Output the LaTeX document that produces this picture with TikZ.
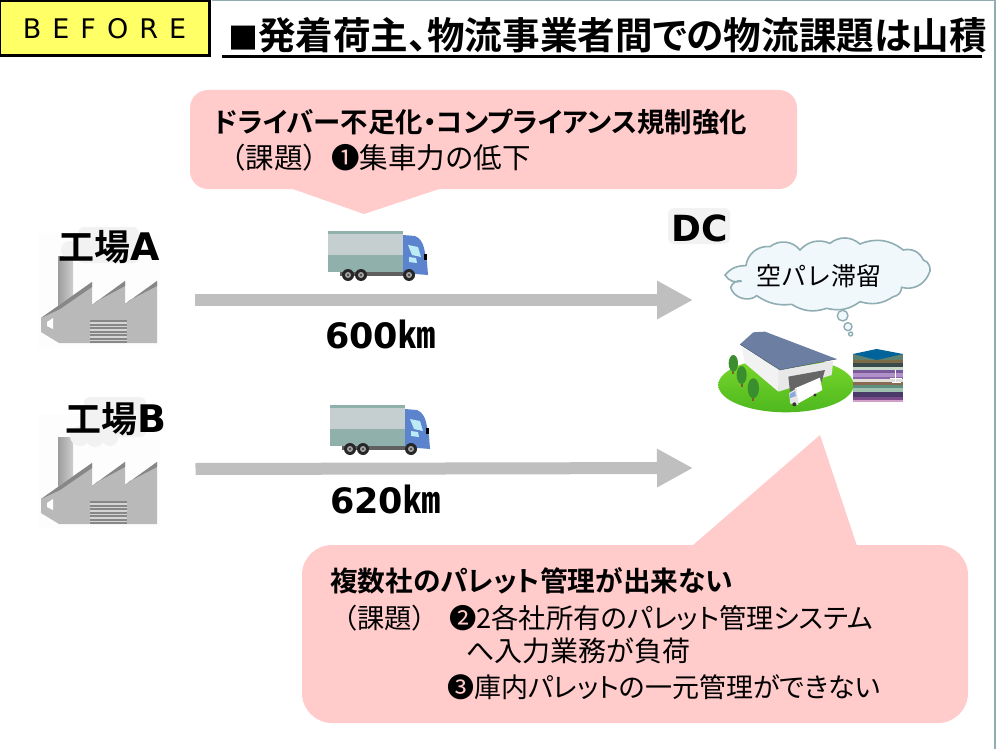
\documentclass[tikz,border=0pt]{standalone}
\usepackage{fontspec}
\usetikzlibrary{arrows.meta}
\setmainfont{DejaVu Sans}
\newfontfamily\jp[RawFeature=+palt,BoldFont={Noto Sans CJK JP Bold}]{Noto Sans CJK JP}
\newfontfamily\jpw[BoldFont={Noto Sans CJK JP Bold}]{Noto Sans CJK JP}
\newfontfamily\vd{DejaVu Sans}
\newcommand{\fs}[1]{\fontsize{#1}{#1}\selectfont}
\definecolor{pinkfill}{HTML}{FFCBCB}
\definecolor{framec}{HTML}{8FADB3}
\definecolor{yellowb}{HTML}{FFFF66}
\definecolor{arrowgray}{HTML}{BFBFBF}
\definecolor{facbody}{HTML}{B9B9B9}
\definecolor{facdark}{HTML}{878787}
\definecolor{halo}{HTML}{F2F2F2}
\definecolor{boxgray}{HTML}{C6CFCF}
\definecolor{boxteal}{HTML}{8FB0AB}
\definecolor{cabblue}{HTML}{5B83CE}
\definecolor{cabglass}{HTML}{BDEBF5}
\definecolor{cloudfill}{HTML}{F0F8FB}
\definecolor{facbg}{HTML}{FDFDFD}
\definecolor{roofc}{HTML}{6C7FA3}
\definecolor{treec}{HTML}{3B8E2E}
\definecolor{lawntop}{HTML}{7BD82C}
\definecolor{lawnbot}{HTML}{4DB81E}
\tikzset{
  x=1pt,y=-1pt,
  every node/.style={inner sep=0pt,outer sep=0pt},
  txt/.style={anchor=west,text=black,font=\jp\fs{27.3}},
  boldtxt/.style={anchor=west,text=black,font=\jp\bfseries\fs{27.7}},
  callout/.style={fill=pinkfill,draw=none},
  haul/.style={draw=arrowgray,line width=12pt,-{Triangle[length=36pt,width=36pt]}},
  labelhalo/.style={fill=halo,rounded corners=6pt},
  factory/.pic={
    \fill[facbg] (38,233) rectangle (160,347);
    \shade[left color=facbody!85!black,right color=facbody!70!white] (58,256) rectangle (73,305);
    \fill[facbody] (41,318) -- (92,282) -- (92,305) -- (125,281) -- (125,304) -- (157,281) -- (157,343) -- (59,343) -- (41,332) -- cycle;
    \fill[facdark] (41,318) -- (92,282) -- (92,287) -- (60,309) -- cycle;
    \fill[facdark] (92,305) -- (125,281) -- (125,286) -- (97,301) -- cycle;
    \fill[facdark] (125,304) -- (157,281) -- (157,286) -- (130,300) -- cycle;
    \fill[white] (47,322) -- (53,318) -- (53,329) -- (47,326) -- cycle;
    \fill[facbody!60!white] (90,320) rectangle (127,343);
    \foreach \yy in {320,323.5,...,341}{\fill[facdark] (90,\yy) rectangle (127,\yy+2);}
  },
  truck/.pic={
    \fill[boxgray] (328,231) rectangle (403,272);
    \fill[boxteal] (328,231) rectangle (403,233.5);
    \fill[boxteal] (328,255) rectangle (403,272);
    \fill[facdark!70!black] (340,272) rectangle (408,276);
    \fill[cabblue] (403,235) -- (415,236) .. controls (420,238) and (423,243) .. (424,248) -- (427,262) -- (428,275) -- (403,273) -- cycle;
    \fill[cabglass] (408,245) -- (418,247) -- (421,257) -- (412,255) -- cycle;
    \fill[cabglass] (409,257) -- (416,258) -- (417,263) -- (409,262) -- cycle;
    \fill[black] (424,254) rectangle (427,260);
    \foreach \wx in {348,361,409}{
      \fill[black!85] (\wx,275) circle (6);
      \fill[gray!70] (\wx,275) circle (3);
      \fill[black!70] (\wx,275) circle (1.3);
    }
  }
}
\begin{document}
\begin{tikzpicture}
\useasboundingbox (0,0) rectangle (999,749);
\fill[white] (0,0) rectangle (999,749);
% frame
\fill[framec] (212,0) rectangle (996,1.5);
\fill[framec] (994,0) rectangle (996,749);
% before tag
\node[draw=black,line width=3pt,fill=yellowb,minimum width=210pt,minimum height=55pt,anchor=north west,text=black,font=\vd\fs{27}] (tag) at (-0.5,1) {B\hspace{11pt}E\hspace{11pt}F\hspace{11pt}O\hspace{11pt}R\hspace{11pt}E\hspace{15pt}};
% title
\node[anchor=base west,font=\jp\bfseries\fs{37.6},text=black] (title) at (228,50) {{\fs{30}■}発着荷主、物流事業者間での物流課題は山積};
\fill[black] (222,55) rectangle (982,58);
% callout 1
\fill[pinkfill] (290,188) -- (364,214) -- (442,188) -- cycle;
\node[callout,rounded corners=18pt,minimum width=607pt,minimum height=99pt,anchor=north west] (callA) at (190,90) {};
\node[boldtxt,font=\jp\bfseries\fs{27.4}] (callAh) at (214,122) {ドライバー不足化・コンプライアンス規制強化};
\node[txt,font=\jpw\fs{28.5}] (callAt) at (217,158) {（課題）❶集車力の低下};
% callout 2
\fill[pinkfill] (692,546) -- (820,435) -- (857,546) -- cycle;
\node[callout,rounded corners=30pt,minimum width=666pt,minimum height=178pt,anchor=north west] (callB) at (302,545) {};
\node[boldtxt] (callBh) at (330,581) {複数社のパレット管理が出来ない};
\node[txt] (callB1) at (330,618) {{\jpw （課題）\hspace{10pt}❷}2各社所有のパレット管理システム};
\node[txt,font=\jpw\fs{28}] (callB2) at (466,651) {へ入力業務が負荷};
\node[txt,font=\jp\fs{27}] (callB3) at (447,687) {{\jpw ❸}庫内パレットの一元管理ができない};
% factories
\pic (facA) at (0,0) {factory};
\pic (facB) at (0,181) {factory};
\fill[labelhalo] (78,227) rectangle (139,263);
\fill[halo] (70,250) circle (9);
\fill[halo] (80,436) circle (10);
\fill[halo] (95,438) circle (9);
\fill[halo] (110,438) circle (8);
\fill[labelhalo] (84,397) rectangle (146,437);
\node[anchor=west,font=\jpw\bfseries\fs{36},text=black] (labA) at (58,247) {工場{\vd\bfseries\fs{38}A}};
\node[anchor=west,font=\jpw\bfseries\fs{36},text=black] (labB) at (65,419) {工場{\vd\bfseries\fs{38}B}};
% trucks
\pic (trkA) at (0,0) {truck};
\pic (trkB) at (2,174) {truck};
% arrows
\coordinate (a1s) at (195,300);
\coordinate (a1e) at (693,300);
\coordinate (a2s) at (195.5,469);
\coordinate (a2e) at (693,468);
\draw[haul] (a1s) -- (a1e);
\draw[haul] (a2s) -- (a2e);
\node[anchor=west,font=\vd\bfseries\fs{35},text=black] (d1) at (325,334) {600{\jpw\bfseries\fs{37}㎞}};
\node[anchor=west,font=\vd\bfseries\fs{35},text=black] (d2) at (330,499) {620{\jpw\bfseries\fs{37}㎞}};
% DC
\fill[labelhalo] (668,208) rectangle (730,244);
\node[font=\vd\bfseries\fs{36},text=black] (dc) at (699.5,228) {DC};
% cloud and warehouse, in zoomed coordinates
\begin{scope}[shift={(660,200)},x=0.3333pt,y=-0.3333pt]
  \filldraw[fill=cloudfill,draw=framec,line width=1.6pt] (258,197) to[bend right=25] (195,225) to[bend right=40] (245,243) to[bend right=40] (212,262) to[bend right=60] (290,287) to[bend right=20] (395,313) to[bend right=25] (500,325) to[bend right=25] (600,305) to[bend right=25] (700,290) to[bend right=40] (725,262) to[bend right=40] (805,225) to[bend right=60] (790,180) to[bend right=40] (730,150) to[bend right=30] (600,132) to[bend right=40] (510,130) to[bend right=35] (420,150) to[bend right=45] (330,140) to[bend right=45] cycle;
  \foreach \cx/\cy/\cr in {548/347/16,564/380/12,572/402/6}{\filldraw[draw=framec,fill=cloudfill,line width=1.4pt] (\cx,\cy) circle (\cr);}
  % ground
  \shade[top color=lawntop,bottom color=lawnbot] (378,555) ellipse (203 and 82);
  % building (zoom coordinates of the crop, shifted)
  \begin{scope}[shift={(165,375)}]
    \fill[gray!10!white] (80,65) -- (195,135) -- (190,200) -- (90,115) -- cycle;
    \fill[gray!18!white] (190,135) -- (355,108) -- (350,150) -- (190,200) -- cycle;
    \fill[black!60] (220,155) -- (330,135) -- (320,170) -- (225,200) -- cycle;
    \fill[roofc] (75,58) -- (115,22) -- (150,20) -- (365,102) -- (195,135) -- cycle;
    \draw[roofc!65!black,line width=.4pt] (75,58) -- (195,135) -- (365,102);
    % van
    \fill[white] (240,190) -- (315,158) -- (322,195) -- (250,235) -- cycle;
    \fill[gray!20!white] (222,205) -- (245,190) -- (250,240) -- (226,236) -- cycle;
    \fill[cabblue!70!white] (224,207) -- (240,198) -- (243,213) -- (224,220) -- cycle;
    \fill[black!80] (238,238) circle (6);
    \fill[black!80] (300,210) circle (5);
    % trees
    \foreach \tx/\ty/\trx/\tsy in {55/115/14/25,80/150/15/27,115/190/17/30}{
      \fill[brown!70!black] (\tx-3,\ty+10) rectangle (\tx+3,\ty+\tsy+8);
      \fill[treec] (\tx,\ty) ellipse [x radius=\trx, y radius=\tsy];
    }
  \end{scope}
  % pallet stack
  \foreach \sy/\sh/\scol in {462/18/5F7F6F,480/10/7A6A45,490/10/3A4A4A,500/10/C8D8C8,510/10/7A5A9A,520/10/B090C8,530/6/8A68A8,536/9/E0E0D8,545/10/8A6A50,555/10/5F8F7F,565/10/A0C0B0,575/15/4A3A6A,590/10/7A4A8A,600/5/D0A0C8}{
    \definecolor{stackc}{HTML}{\scol}
    \fill[stackc] (579,\sy) rectangle (729,\sy+\sh+.3);
  }
  \fill[blue!35!cyan!60!black] (579,462) -- (650,447) -- (729,462) -- (650,480) -- cycle;
  \draw[white,line width=.8pt] (690,535) -- (725,535) (705,510) -- (705,548) (695,548) -- (722,548);
\end{scope}
\node[font=\jpw\fs{25},text=black] (cloudt) at (819,276) {空パレ滞留};
\end{tikzpicture}
\end{document}
